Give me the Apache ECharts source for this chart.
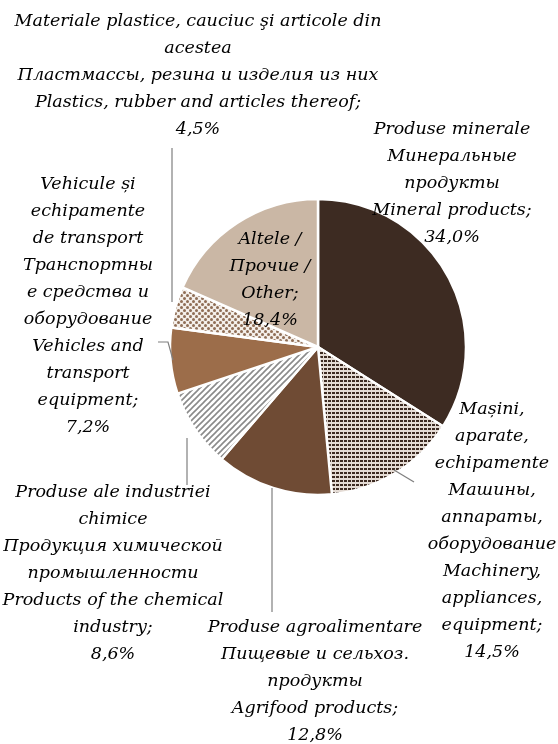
<!DOCTYPE html>
<html lang="ro">
<head>
    <meta charset="UTF-8">
    <title></title>
    <script type="text/javascript" src="https://cdn.jsdelivr.net/npm/echarts@6/dist/echarts.min.js"></script>
    <style>
        html, body { margin: 0; padding: 0; background: #fff; }
    </style>
</head>
<body>
<div id="chart" style="width: 558px;height: 744px"></div>
</body>
</html>
<script type="text/javascript">
    // categories (ro / ru / en lines) and shares, %
    var categories = [
        ['Produse minerale', 'Минеральные', 'продукты', 'Mineral products;'],
        ['Mașini,', 'aparate,', 'echipamente', 'Машины,', 'аппараты,', 'оборудование', 'Machinery,', 'appliances,', 'equipment;'],
        ['Produse agroalimentare', 'Пищевые и сельхоз.', 'продукты', 'Agrifood products;'],
        ['Produse ale industriei', 'chimice', 'Продукция химической', 'промышленности', 'Products of the chemical', 'industry;'],
        ['Vehicule și', 'echipamente', 'de transport', 'Транспортны', 'е средства и', 'оборудование', 'Vehicles and', 'transport', 'equipment;'],
        ['Materiale plastice, cauciuc şi articole din', 'acestea', 'Пластмассы, резина и изделия из них', 'Plastics, rubber and articles thereof;'],
        ['Altele /', 'Прочие /', 'Other;']
    ];
    var values = [34.0, 14.5, 12.8, 8.6, 7.2, 4.5, 18.4];

    // where each label block sits (center x, top y)
    var labelPos = [[452, 116], [492, 396], [315, 614], [113, 479], [88, 171], [198, 8], [270, 226]];
    // leader lines
    var leaders = [
        [[172, 148], [172, 302]],
        [[158, 342], [168, 342], [173, 360]],
        [[187, 438], [187, 485]],
        [[272, 488], [272, 612]],
        [[394, 470], [414, 482]]
    ];

    function makePattern(w, h, draw) {
        var c = document.createElement('canvas');
        c.width = w;
        c.height = h;
        draw(c.getContext('2d'));
        return {image: c, repeat: 'repeat'};
    }

    // dotted rows (machinery)
    var dotRows = makePattern(4, 4, function (g) {
        g.fillStyle = '#e4dbd4';
        g.fillRect(0, 0, 4, 4);
        g.fillStyle = '#3c2a21';
        g.fillRect(0, 0, 3, 2);
    });
    // diagonal stripes (chemical)
    var stripes = makePattern(6, 6, function (g) {
        g.fillStyle = '#ffffff';
        g.fillRect(0, 0, 6, 6);
        g.strokeStyle = '#8a8a8a';
        g.lineWidth = 1.6;
        g.beginPath();
        g.moveTo(-1, 7); g.lineTo(7, -1);
        g.moveTo(-1, 1); g.lineTo(1, -1);
        g.moveTo(5, 7); g.lineTo(7, 5);
        g.stroke();
    });
    // checker dots (plastics)
    var checker = makePattern(6, 6, function (g) {
        g.fillStyle = '#f4efea';
        g.fillRect(0, 0, 6, 6);
        g.fillStyle = '#8f6d55';
        g.beginPath();
        g.arc(1.5, 1.5, 1.5, 0, Math.PI * 2);
        g.arc(4.5, 4.5, 1.5, 0, Math.PI * 2);
        g.fill();
    });

    var colors = ['#3d2b22', dotRows, '#6f4b34', stripes, '#9c6d4a', checker, '#cab7a5'];

    var data = [];
    for (var i = 0; i < values.length; i++) {
        data.push({
            value: values[i],
            name: categories[i].join('\n'),
            itemStyle: {color: colors[i]}
        });
    }

    var graphics = leaders.map(function (pts) {
        return {
            type: 'polyline',
            shape: {points: pts},
            style: {stroke: '#7f7f7f', lineWidth: 1.2, fill: null},
            z: 10
        };
    });

    var myChart = echarts.init(document.getElementById('chart'));
    var option = {
        animation: false,
        graphic: graphics,
        series: [
            {
                type: 'pie',
                center: [318, 347],
                radius: 148,
                startAngle: 90,
                clockwise: true,
                avoidLabelOverlap: false,
                itemStyle: {borderColor: '#ffffff', borderWidth: 2.5},
                label: {
                    show: true,
                    position: 'outside',
                    color: '#000',
                    fontFamily: 'DejaVu Serif',
                    fontStyle: 'italic',
                    fontSize: 17.5,
                    lineHeight: 27,
                    align: 'center',
                    formatter: function (p) {
                        return p.name + '\n' + p.value.toFixed(1).replace('.', ',') + '%';
                    }
                },
                labelLine: {show: false},
                labelLayout: function (params) {
                    var p = labelPos[params.dataIndex];
                    return {x: p[0], y: p[1], align: 'center', verticalAlign: 'top'};
                },
                emphasis: {disabled: true},
                data: data
            }
        ]
    };
    myChart.setOption(option);
</script>
